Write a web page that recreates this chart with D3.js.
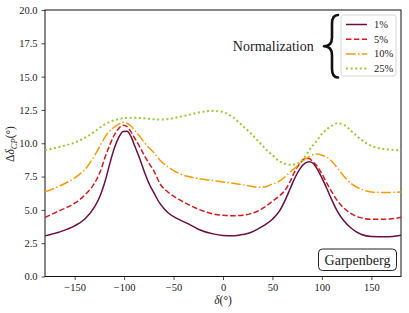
<!DOCTYPE html>
<html>
<head>
<meta charset="utf-8">
<script src="https://cdn.jsdelivr.net/npm/d3@7"></script>
</head>
<body style="margin:0">
<svg id="chart" width="409" height="313"></svg>
<script>
const serif = '"Liberation Serif"';

// delta (deg) sample points
const delta = [-180, -165, -150, -140, -130, -124, -119, -114, -110, -105, -101, -97, -93, -89, -84, -79, -74, -70, -64, -55, -45, -35, -25, -10, 0, 10, 20, 28, 35, 42, 50, 57, 63, 68, 73, 78, 83, 87, 91, 95, 100, 105, 110, 116, 122, 130, 140, 150, 165, 180];

const norm1 = [3.05, 3.35, 3.8, 4.3, 5.2, 6.1, 7.2, 8.6, 9.6, 10.5, 10.88, 10.9, 10.5, 9.75, 8.8, 7.75, 6.85, 6.3, 5.5, 4.75, 4.3, 3.95, 3.55, 3.2, 3.08, 3.05, 3.15, 3.3, 3.55, 3.85, 4.3, 4.9, 5.75, 6.6, 7.45, 8.1, 8.5, 8.62, 8.5, 8.1, 7.4, 6.6, 5.75, 4.85, 4.2, 3.6, 3.15, 3.0, 2.98, 3.1];
const norm5 = [4.44, 4.95, 5.5, 6.1, 7.0, 7.9, 9.0, 9.95, 10.6, 11.15, 11.36, 11.25, 10.85, 10.35, 9.7, 9.0, 8.4, 7.95, 7.0, 6.3, 5.8, 5.4, 5.05, 4.7, 4.6, 4.56, 4.6, 4.72, 4.9, 5.2, 5.65, 6.05, 6.5, 7.15, 7.95, 8.5, 8.85, 8.85, 8.6, 8.3, 7.7, 7.0, 6.35, 5.65, 5.15, 4.7, 4.4, 4.3, 4.3, 4.44];
const norm10 = [6.35, 6.8, 7.4, 8.0, 9.05, 9.85, 10.5, 10.95, 11.2, 11.45, 11.58, 11.5, 11.3, 10.95, 10.5, 10.0, 9.6, 9.3, 8.75, 8.2, 7.75, 7.5, 7.35, 7.2, 7.1, 7.0, 6.88, 6.78, 6.7, 6.72, 6.95, 7.15, 7.5, 7.85, 8.15, 8.5, 8.8, 9.0, 9.15, 9.2, 9.1, 8.95, 8.65, 8.1, 7.55, 6.95, 6.55, 6.35, 6.3, 6.35];
const norm25 = [9.47, 9.74, 10.05, 10.4, 10.86, 11.2, 11.45, 11.62, 11.72, 11.82, 11.88, 11.9, 11.92, 11.92, 11.9, 11.87, 11.83, 11.8, 11.78, 11.82, 11.97, 12.12, 12.3, 12.43, 12.35, 11.95, 11.3, 10.75, 10.2, 9.65, 9.1, 8.65, 8.45, 8.38, 8.42, 8.6, 9.0, 9.45, 9.85, 10.2, 10.7, 11.05, 11.3, 11.5, 11.4, 10.9, 10.25, 9.8, 9.55, 9.47];

const seriesLabels = ['1%', '5%', '10%', '25%'];
const xTicks = [-150, -100, -50, 0, 50, 100, 150];
const yTicks = [0, 2.5, 5, 7.5, 10, 12.5, 15, 17.5, 20];

const series = [
    { label: seriesLabels[0], values: norm1, color: '#6b0f3f', dash: null, lw: 1.5 },
    { label: seriesLabels[1], values: norm5, color: '#d7191c', dash: '5.5,2.4', lw: 1.5 },
    { label: seriesLabels[2], values: norm10, color: '#ff9900', dash: '9.6,2.4,1.5,2.4', lw: 1.5 },
    { label: seriesLabels[3], values: norm25, color: '#9acd32', dash: '2,2.6', lw: 2 }
];

const margin = { top: 10, right: 8, bottom: 36.5, left: 45 };
const width = 409 - margin.left - margin.right;
const height = 313 - margin.top - margin.bottom;

const svg = d3.select('#chart');
const g = svg.append('g').attr('transform', `translate(${margin.left},${margin.top})`);

const xScale = d3.scaleLinear().domain([-180, 180]).range([0, width]);
const yScale = d3.scaleLinear().domain([0, 20]).range([height, 0]);

const minus = (v) => String(v).replace('-', '\u2212');

// axes
const xAxis = g.append('g')
    .attr('transform', `translate(0,${height})`)
    .call(d3.axisBottom(xScale).tickValues(xTicks).tickSizeInner(3.5).tickSizeOuter(0).tickPadding(4).tickFormat(minus));
const yAxis = g.append('g')
    .call(d3.axisLeft(yScale).tickValues(yTicks).tickSizeInner(3.5).tickSizeOuter(0).tickPadding(4).tickFormat(d3.format('.1f')));

[xAxis, yAxis].forEach(a => {
    a.attr('font-family', null).attr('font-size', null);
    a.select('.domain').remove();
    a.selectAll('line').attr('stroke', '#222').attr('stroke-width', 0.8);
    a.selectAll('text').attr('fill', '#222')
        .style('font-family', serif).style('font-size', '10.5px');
});

// frame
g.append('rect')
    .attr('width', width).attr('height', height)
    .attr('fill', 'none').attr('stroke', '#111').attr('stroke-width', 1);

// lines
const line = d3.line()
    .x((d, i) => xScale(delta[i]))
    .y(d => yScale(d))
    .curve(d3.curveMonotoneX);

series.forEach(s => {
    g.append('path')
        .datum(s.values)
        .attr('d', line)
        .attr('fill', 'none')
        .attr('stroke', s.color)
        .attr('stroke-width', s.lw)
        .attr('stroke-dasharray', s.dash);
});

// axis titles
svg.append('text')
    .attr('x', margin.left + xScale(0)).attr('y', 304)
    .attr('text-anchor', 'middle').attr('fill', '#222')
    .style('font-family', serif).style('font-size', '11.5px')
    .html('<tspan font-style="italic">δ</tspan>(°)');

svg.append('text')
    .attr('transform', 'translate(14,144) rotate(-90)')
    .attr('text-anchor', 'middle').attr('fill', '#222')
    .style('font-family', serif).style('font-size', '11.5px')
    .html('Δ<tspan font-style="italic">δ</tspan><tspan font-style="italic" font-size="8.5" dy="3">CP</tspan><tspan dy="-3">(°)</tspan>');

// legend
const lg = svg.append('g').attr('transform', 'translate(341,15)');
lg.append('rect')
    .attr('width', 55).attr('height', 61).attr('rx', 2.5)
    .attr('fill', '#fff').attr('stroke', '#ccc').attr('stroke-width', 0.8);
series.forEach((s, i) => {
    const yy = 9.5 + i * 14.7;
    lg.append('line')
        .attr('x1', 5).attr('x2', 26).attr('y1', yy).attr('y2', yy)
        .attr('stroke', s.color)
        .attr('stroke-width', s.lw)
        .attr('stroke-dasharray', s.dash);
    lg.append('text')
        .attr('x', 33).attr('y', yy + 3.5)
        .attr('fill', '#222')
        .style('font-family', serif).style('font-size', '10.5px')
        .text(s.label);
});

// curly brace
const bx = 332, bTop = 15, bBot = 77.5, bMid = 46.2;
svg.append('path')
    .attr('d', `M${bx + 6},${bTop} Q${bx},${bTop} ${bx},${bTop + 9}
        L${bx},${bMid - 9} Q${bx},${bMid} ${bx - 8},${bMid}
        Q${bx},${bMid} ${bx},${bMid + 9}
        L${bx},${bBot - 9} Q${bx},${bBot} ${bx + 6},${bBot}`)
    .attr('fill', 'none').attr('stroke', '#111').attr('stroke-width', 2.6)
    .attr('stroke-linecap', 'round').attr('stroke-linejoin', 'round');

const norm = svg.append('text')
    .attr('x', 273.3).attr('y', 50.5)
    .attr('text-anchor', 'middle').attr('fill', '#222')
    .style('font-family', serif).style('font-size', '14px')
    .text('Normalization');

// site box
svg.append('rect')
    .attr('x', 318.5).attr('y', 249).attr('width', 78).attr('height', 21.5).attr('rx', 4)
    .attr('fill', '#fff').attr('stroke', '#222').attr('stroke-width', 1);
svg.append('text')
    .attr('x', 357.5).attr('y', 264.5)
    .attr('text-anchor', 'middle').attr('fill', '#222')
    .style('font-family', serif).style('font-size', '14px')
    .text('Garpenberg');
</script>
</body>
</html>
